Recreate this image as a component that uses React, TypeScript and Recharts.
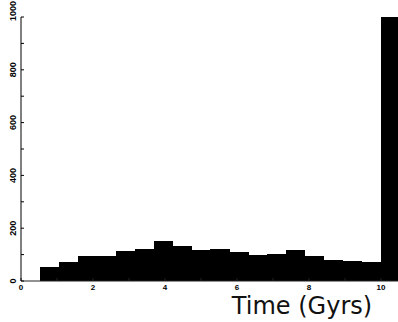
import React from 'react';
import { BarChart, Bar, XAxis, YAxis } from 'recharts';

const binCenters = [0.789, 1.316, 1.842, 2.368, 2.895, 3.421, 3.947, 4.474, 5.0, 5.526, 6.053, 6.579, 7.105, 7.632, 8.158, 8.684, 9.211, 9.737, 10.263];
const counts = [52, 72, 95, 95, 114, 121, 152, 133, 117, 121, 110, 98, 102, 117, 95, 80, 76, 72, 1000];
const xTicks = [0, 1, 2, 3, 4, 5, 6, 7, 8, 9, 10];
const xLabelled = [0, 2, 4, 6, 8, 10];
const yTicks = [0, 100, 200, 300, 400, 500, 600, 700, 800, 900, 1000];
const yLabelled = [0, 200, 400, 600, 800, 1000];

const data = binCenters.map((t, i) => ({ t, n: counts[i] }));

const XTick = (props: any) => {
  const { x, y, payload } = props;
  if (!xLabelled.includes(payload.value)) return <g />;
  return (
    <text x={x} y={y + 9} textAnchor="middle" fontSize={8} fontWeight="bold" fontFamily="Liberation Sans, Arial, sans-serif" fill="#000">
      {payload.value}
    </text>
  );
};

const YTick = (props: any) => {
  const { x, y, payload } = props;
  if (!yLabelled.includes(payload.value)) return <g />;
  const bx = x - 5;
  const cy = payload.value === 1000 ? y - 6 : y;
  return (
    <text x={bx} y={cy} transform={`rotate(-90, ${bx}, ${cy})`} textAnchor="middle" fontSize={9} fontWeight="bold" fontFamily="Liberation Sans, Arial, sans-serif" fill="#000">
      {payload.value}
    </text>
  );
};

const BIN_PX = 19.2;

const HistBar = (props: any) => {
  const { x, y, width, height } = props;
  if (!height || height <= 0) return <g />;
  const cx = x + width / 2;
  return <rect x={cx - BIN_PX / 2} y={y} width={BIN_PX} height={height} fill="#000" shapeRendering="crispEdges" />;
};

export default function App() {
  return (
    <div style={{ position: 'absolute', left: 0, top: 0 }}>
      <BarChart width={398} height={322} data={data} margin={{ top: 17, right: 0, left: 0, bottom: 0 }} barCategoryGap={0}>
        <XAxis
          xAxisId="bottom"
          dataKey="t"
          type="number"
          domain={[0, 10.47]}
          allowDataOverflow
          ticks={xTicks}
          interval={0}
          height={41}
          tickSize={-3}
          tickMargin={3}
          tick={<XTick />}
          axisLine={{ stroke: '#222', strokeWidth: 1 }}
          tickLine={{ stroke: '#222' }}
          label={{
            content: () => (
              <text x={302} y={314} textAnchor="middle" fontSize={24} fontFamily="DejaVu Sans, sans-serif" fill="#111">
                Time (Gyrs)
              </text>
            ),
          }}
        />
        <XAxis
          xAxisId="top"
          dataKey="t"
          type="number"
          orientation="top"
          domain={[0, 10.47]}
          allowDataOverflow
          ticks={xTicks}
          interval={0}
          height={0}
          tickSize={-3}
          tick={false}
          axisLine={{ stroke: '#444', strokeWidth: 1 }}
          tickLine={{ stroke: '#444' }}
        />
        <YAxis
          type="number"
          domain={[0, 1000]}
          allowDataOverflow
          ticks={yTicks}
          interval={0}
          width={21}
          tickSize={-3}
          tickMargin={3}
          tick={<YTick />}
          axisLine={{ stroke: '#000', strokeWidth: 1 }}
          tickLine={{ stroke: '#000' }}
        />
        <Bar xAxisId="bottom" dataKey="n" fill="#000" barSize={19} shape={<HistBar />} isAnimationActive={false} />
      </BarChart>
    </div>
  );
}
